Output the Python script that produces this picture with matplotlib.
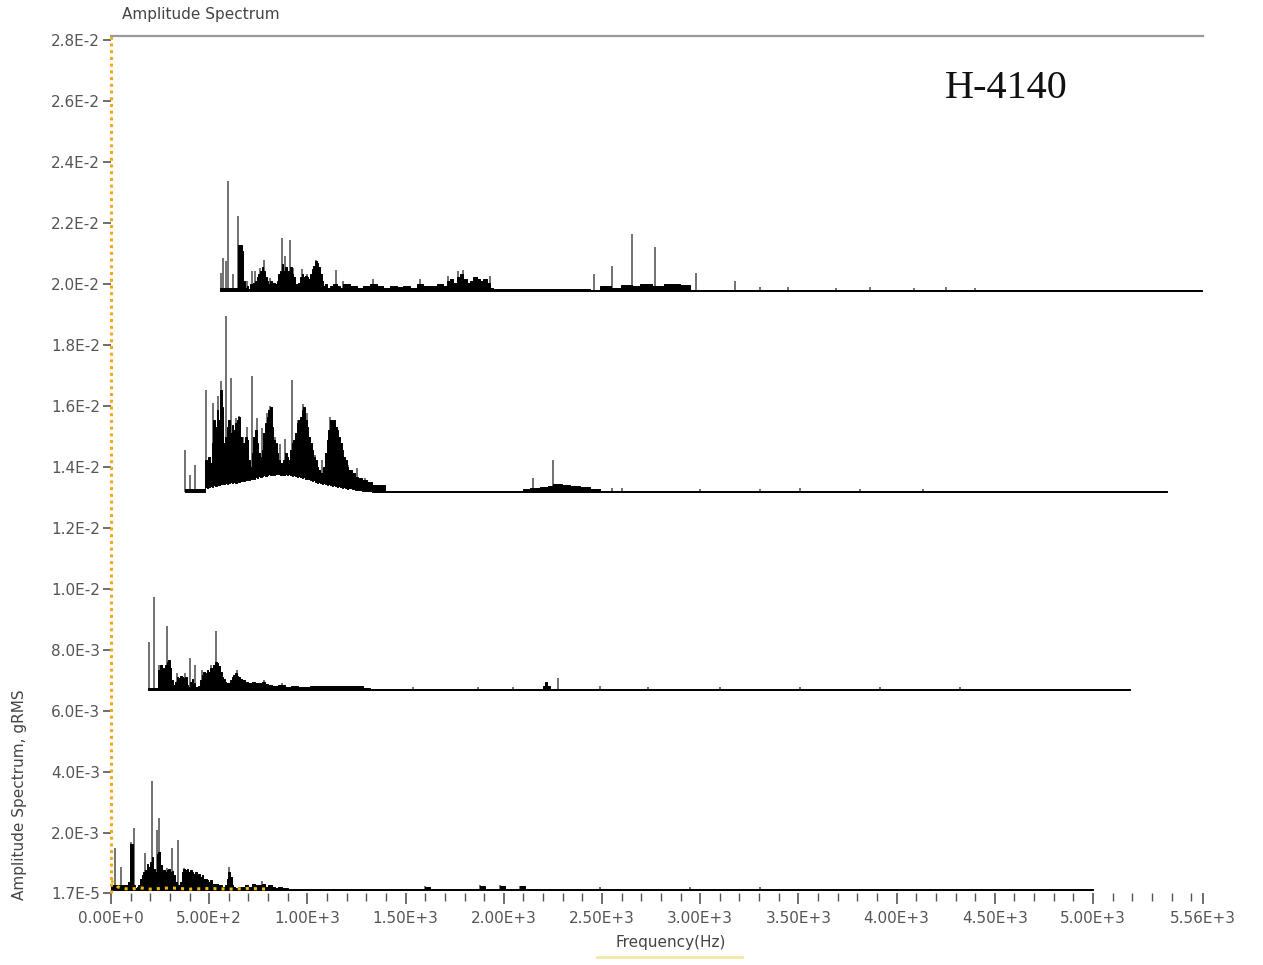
import matplotlib
matplotlib.use("Agg")
import matplotlib.pyplot as plt
import numpy as np
from matplotlib.lines import Line2D

# Four runs of the spectrum, drawn as a waterfall: each run is shifted
# right (Hz) and up (gRMS) from the one below it.
run_shift_hz = [0, 188, 377, 555]
run_shift_g = [1.15e-4, 6.68e-3, 1.317e-2, 1.977e-2]

# Dense part of each spectrum: frequency (Hz), upper (and lower) edge (mgRMS).
run1_f = [0, 71, 88, 97, 105, 114, 122, 131, 139, 148, 156, 165, 173, 182, 190,
          199, 207, 216, 224, 232, 241, 249, 258, 266, 275, 283, 292, 300, 309,
          317, 326, 334, 343, 351, 360, 368, 377, 385, 394, 402, 411, 419, 428,
          436, 445, 453, 462, 470, 479, 487, 496, 504, 512, 529, 546, 563, 580,
          589, 597, 606, 614, 623, 631, 648, 665, 682, 699, 716, 733, 750, 767,
          784, 801, 818, 835, 852, 869, 886, 903, 1599, 1624, 1879, 1904, 1981,
          2006, 2083, 2108, 5000]
run1_hi = [0.15, 0.15, 0.26, 1.52, 1.52, 0.15, 0.07, 0.10, 0.15, 0.37, 0.48,
           0.59, 0.65, 0.86, 0.75, 0.92, 1.08, 0.70, 0.59, 1.19, 1.25, 0.81,
           0.59, 0.65, 0.59, 0.65, 0.70, 0.59, 0.61, 0.48, 0.26, 0.10, 0.15,
           0.26, 0.59, 0.70, 0.65, 0.70, 0.59, 0.65, 0.59, 0.54, 0.59, 0.48,
           0.54, 0.43, 0.48, 0.37, 0.37, 0.32, 0.26, 0.32, 0.21, 0.21, 0.15,
           0.10, 0.15, 0.37, 0.59, 0.43, 0.15, 0.10, 0.05, 0.10, 0.10, 0.15,
           0.10, 0.21, 0.15, 0.15, 0.21, 0.10, 0.15, 0.10, 0.07, 0.10, 0.07,
           0.05, 0.03, 0.10, 0.03, 0.13, 0.03, 0.13, 0.03, 0.13, 0.03, 0.03]

run2_f = [0, 44, 53, 61, 70, 78, 86, 95, 103, 112, 120, 129, 137, 146, 154, 163,
          171, 180, 188, 197, 205, 214, 222, 231, 239, 248, 256, 265, 273, 282,
          290, 299, 307, 316, 324, 333, 341, 350, 358, 366, 375, 383, 392, 400,
          409, 417, 426, 434, 443, 451, 460, 468, 477, 494, 511, 528, 545, 562,
          579, 596, 613, 630, 663, 697, 731, 765, 799, 825, 1095, 1130, 1996,
          2010, 2022, 2034, 2047, 5000]
run2_hi = [0.06, 0.06, 0.66, 0.82, 0.60, 0.71, 0.82, 0.93, 0.98, 0.71, 0.33,
           0.16, 0.27, 0.42, 0.38, 0.44, 0.42, 0.38, 0.42, 0.16, 0.11, 0.27,
           0.35, 0.22, 0.11, 0.09, 0.13, 0.33, 0.49, 0.60, 0.55, 0.66, 0.60,
           0.71, 0.66, 0.82, 0.93, 0.87, 0.77, 0.60, 0.42, 0.35, 0.27, 0.22,
           0.24, 0.33, 0.42, 0.49, 0.55, 0.46, 0.42, 0.35, 0.31, 0.26, 0.24,
           0.27, 0.24, 0.22, 0.26, 0.20, 0.16, 0.13, 0.15, 0.11, 0.13, 0.09,
           0.09, 0.13, 0.07, 0.03, 0.03, 0.13, 0.26, 0.13, 0.03, 0.03]

run3_f = [0, 97, 102, 110, 119, 127, 136, 144, 153, 161, 170, 178, 187, 195,
          204, 212, 221, 229, 238, 246, 255, 263, 272, 280, 289, 297, 306, 314,
          322, 331, 339, 348, 356, 365, 373, 382, 390, 399, 407, 416, 424, 433,
          441, 450, 458, 467, 475, 484, 492, 501, 509, 518, 526, 535, 543, 551,
          560, 568, 577, 585, 594, 602, 611, 619, 628, 636, 645, 653, 662, 670,
          679, 687, 696, 704, 713, 721, 730, 738, 747, 755, 764, 772, 781, 789,
          798, 806, 815, 823, 832, 849, 866, 883, 900, 925,
          950, 1018, 1680, 1721, 1757, 1808, 1850, 1874, 1920, 1960, 2011, 2062,
          2113, 5000]
run3_hi = [0.10, 0.10, 1.05, 0.83, 1.16, 0.94, 1.60, 2.36, 2.14, 2.69, 2.36,
           3.35, 2.80, 1.60, 1.82, 2.14, 2.36, 1.93, 2.20, 2.04, 2.25, 2.36,
           2.47, 1.82, 1.27, 1.60, 1.82, 1.71, 1.05, 0.83, 1.27, 1.82, 2.04,
           1.60, 1.27, 1.16, 1.38, 1.93, 2.25, 2.47, 2.69, 2.80, 2.14, 1.71,
           1.60, 1.27, 1.05, 0.94, 0.83, 1.05, 1.27, 1.16, 1.05, 1.38, 1.60,
           1.71, 1.93, 2.25, 2.36, 2.47, 2.69, 2.80, 2.36, 2.14, 1.82, 1.60,
           1.38, 1.16, 1.05, 0.83, 0.72, 0.61, 0.61, 0.83, 1.27, 1.71, 2.04,
           2.36, 2.25, 2.36, 2.14, 2.04, 1.82, 1.60, 1.38, 1.16, 1.05, 0.83,
           0.72, 0.61, 0.50, 0.45, 0.40, 0.34,
           0.23, 0.05, 0.05, 0.10, 0.13, 0.16, 0.20, 0.26, 0.23, 0.20, 0.16,
           0.10, 0.05, 0.03]
run3_lo = [0.00, 0.00, 0.16, 0.13, 0.16, 0.20, 0.16, 0.23, 0.20, 0.26, 0.23,
           0.26, 0.30, 0.26, 0.30, 0.26, 0.30, 0.33, 0.30, 0.33, 0.30, 0.36,
           0.33, 0.36, 0.39, 0.36, 0.39, 0.43, 0.39, 0.43, 0.46, 0.43, 0.49,
           0.46, 0.52, 0.49, 0.52, 0.56, 0.52, 0.56, 0.59, 0.56, 0.59, 0.56,
           0.59, 0.62, 0.59, 0.56, 0.59, 0.56, 0.59, 0.56, 0.59, 0.56, 0.52,
           0.56, 0.52, 0.49, 0.52, 0.49, 0.46, 0.49, 0.43, 0.46, 0.43, 0.39,
           0.36, 0.39, 0.33, 0.30, 0.33, 0.30, 0.26, 0.30, 0.26, 0.23, 0.26,
           0.23, 0.20, 0.23, 0.20, 0.16, 0.20, 0.16, 0.13, 0.16, 0.13, 0.10,
           0.13, 0.10, 0.07, 0.07, 0.03, 0.03,
           0.00, 0.00, 0.00, 0.00, 0.00, 0.00, 0.00, 0.00, 0.00, 0.00, 0.00,
           0.00, 0.00, 0.00]

run4_f = [0, 88, 93, 102, 110, 119, 127, 136, 144, 153, 161, 170, 178, 187, 195,
          204, 212, 221, 229, 238, 246, 255, 263, 272, 280, 289, 297, 306, 314,
          322, 331, 339, 348, 356, 365, 373, 382, 390, 399, 407, 416, 424, 433,
          441, 450, 458, 467, 475, 484, 492, 501, 509, 518, 526, 535, 543, 560,
          577, 594, 611, 628, 662, 696, 730, 764, 798, 832, 866, 900, 933, 967,
          1001, 1035, 1069, 1103, 1137, 1154, 1171, 1188, 1205, 1222, 1239,
          1256, 1273, 1290, 1307, 1324, 1341, 1358, 1375, 1392, 1884, 1935,
          1990, 2040, 2100, 2139, 2200, 2260, 2343, 2393, 5000]
run4_hi = [0.11, 0.11, 1.51, 1.51, 1.31, 0.33, 0.11, 0.17, 0.06, 0.22, 0.11,
           0.27, 0.33, 0.44, 0.55, 0.66, 0.77, 0.66, 0.44, 0.33, 0.22, 0.33,
           0.17, 0.27, 0.22, 0.33, 0.55, 0.66, 0.88, 0.66, 0.77, 0.55, 0.66,
           0.77, 0.55, 0.44, 0.22, 0.17, 0.27, 0.44, 0.55, 0.44, 0.49, 0.44,
           0.38, 0.55, 0.71, 0.82, 0.99, 0.93, 0.77, 0.55, 0.33, 0.17, 0.22,
           0.11, 0.17, 0.22, 0.17, 0.11, 0.22, 0.17, 0.11, 0.17, 0.22, 0.17,
           0.11, 0.17, 0.13, 0.17, 0.11, 0.22, 0.17, 0.17, 0.22, 0.17, 0.33,
           0.38, 0.27, 0.44, 0.55, 0.38, 0.27, 0.33, 0.44, 0.38, 0.33, 0.38,
           0.27, 0.11, 0.05, 0.03, 0.16, 0.10, 0.20, 0.16, 0.23, 0.16, 0.23,
           0.20, 0.03, 0.03]

# Discrete lines standing above the dense part: frequency (Hz), peak (mgRMS).
run1_peak_f = [20, 51, 102, 116, 173, 207, 233, 246, 284, 309, 343, 373, 411,
               601, 767, 1599, 1879, 1981, 2083, 2490, 2948, 3305]
run1_peak_a = [1.38, 0.75, 1.57, 2.03, 1.21, 3.58, 1.97, 2.36, 0.72, 1.38, 1.64,
               0.72, 0.59, 0.75, 0.30, 0.13, 0.16, 0.16, 0.13, 0.10, 0.10, 0.10]

run2_peak_f = [5, 32, 56, 95, 103, 146, 188, 214, 239, 273, 299, 321, 345, 367,
               453, 591, 682, 1349, 1680, 1859, 2088, 2302, 2546, 2913, 3320,
               3727, 4135]
run2_peak_a = [1.57, 3.05, 0.82, 2.10, 0.98, 0.56, 0.56, 1.05, 0.82, 0.66, 0.56,
               0.82, 1.94, 0.75, 0.66, 0.33, 0.23, 0.10, 0.10, 0.10, 0.39, 0.13,
               0.10, 0.10, 0.10, 0.10, 0.10]

run3_peak_f = [0, 25, 51, 105, 141, 166, 182, 207, 234, 258, 275, 295, 314, 340,
               365, 390, 416, 433, 458, 484, 509, 546, 577, 599, 619, 662, 696,
               738, 764, 798, 830, 874, 916, 1772, 1874, 2174, 2225, 2622, 2928,
               3131, 3437, 3758]
run3_peak_a = [1.38, 0.56, 0.89, 3.35, 2.92, 3.15, 3.64, 5.77, 3.74, 2.43, 2.49,
               1.80, 2.13, 3.80, 2.43, 2.10, 2.59, 2.82, 1.80, 1.57, 1.74, 3.67,
               2.36, 2.89, 2.59, 1.21, 1.05, 2.46, 2.30, 1.61, 0.89, 0.79, 0.46,
               0.46, 1.05, 0.13, 0.13, 0.10, 0.10, 0.13, 0.10, 0.10]

run4_peak_f = [4, 17, 29, 42, 68, 93, 136, 161, 178, 204, 224, 255, 315, 331,
               356, 373, 416, 441, 489, 591, 627, 779, 1018, 1161, 1212, 1237,
               1308, 1375, 1904, 1996, 2098, 2215, 2424, 2622, 2750, 2892, 3137,
               3310, 3534, 3697, 3844]
run4_peak_a = [0.59, 1.08, 0.98, 3.61, 0.56, 2.46, 0.33, 0.66, 0.66, 0.75, 1.02,
               0.43, 1.74, 1.15, 1.67, 0.75, 0.72, 0.56, 1.02, 0.69, 0.33, 0.39,
               0.39, 0.49, 0.66, 0.69, 0.43, 0.49, 0.56, 0.82, 1.87, 1.44, 0.59,
               0.33, 0.13, 0.13, 0.10, 0.13, 0.10, 0.13, 0.10]

# Cursor trace along the bottom run (mgRMS)
cursor_f = [0, 10, 20, 35, 60, 100, 150, 200, 300, 400, 500, 600, 700, 800]
cursor_a = [0.30, 0.26, 0.20, 0.10, 0.05, 0.03, 0.07, 0.03, 0.07, 0.03, 0.05,
            0.03, 0.05, 0.03]

y_ticks = [1.7e-5, 2.0e-3, 4.0e-3, 6.0e-3, 8.0e-3, 1.0e-2, 1.2e-2, 1.4e-2,
           1.6e-2, 1.8e-2, 2.0e-2, 2.2e-2, 2.4e-2, 2.6e-2, 2.8e-2]
y_tick_labels = ["1.7E-5", "2.0E-3", "4.0E-3", "6.0E-3", "8.0E-3", "1.0E-2",
                 "1.2E-2", "1.4E-2", "1.6E-2", "1.8E-2", "2.0E-2", "2.2E-2",
                 "2.4E-2", "2.6E-2", "2.8E-2"]
x_ticks = [0, 500, 1000, 1500, 2000, 2500, 3000, 3500, 4000, 4500, 5000, 5560]
x_tick_labels = ["0.00E+0", "5.00E+2", "1.00E+3", "1.50E+3", "2.00E+3",
                 "2.50E+3", "3.00E+3", "3.50E+3", "4.00E+3", "4.50E+3",
                 "5.00E+3", "5.56E+3"]

W, H = 1263, 965
fig = plt.figure(figsize=(W / 100, H / 100), dpi=100)
fig.patch.set_facecolor("white")
# plot area in pixels: x 111..1203, y 36..893
ax = fig.add_axes([111 / W, 1 - 893 / H, (1203 - 111) / W, (893 - 36) / H])
ax.set_xlim(0, 5560)
ax.set_ylim(1.7e-5, 2.8131e-2)

runs = [
    (run1_f, None, run1_hi, run1_peak_f, run1_peak_a),
    (run2_f, None, run2_hi, run2_peak_f, run2_peak_a),
    (run3_f, run3_lo, run3_hi, run3_peak_f, run3_peak_a),
    (run4_f, None, run4_hi, run4_peak_f, run4_peak_a),
]

for k, (f, lo, hi, pf, pa) in enumerate(runs):
    dx = run_shift_hz[k]
    dy = run_shift_g[k]
    f = np.asarray(f, float) + dx
    hi = np.asarray(hi) * 1e-3 + dy
    floor = np.zeros(len(f)) if lo is None else np.asarray(lo) * 1e-3
    lo = floor + dy
    pf = np.asarray(pf, float) + dx
    pa = np.asarray(pa) * 1e-3 + dy
    ax.vlines(pf, dy, pa, color="#666666", lw=1.3, zorder=2)
    if floor.any():
        # nothing shows below a raised noise floor
        ax.fill_between(f, dy - 2e-5, lo, step="post", color="white", lw=0,
                        zorder=2.5)
    ax.fill_between(f, lo, hi, step="post", color="black", lw=0.7, zorder=3)

# cursor markers at the low end
ax.plot(np.asarray(cursor_f) + run_shift_hz[0],
        np.asarray(cursor_a) * 1e-3 + run_shift_g[0],
        color="#f5b800", ls=":", lw=2.2, zorder=4)
ax.plot([0, 0], [1.7e-5, 2.8131e-2], color="#f5a623", ls=(0, (1, 1.2)),
        lw=2.2, zorder=5, clip_on=False)

for side in ("right", "bottom", "left"):
    ax.spines[side].set_visible(False)
ax.spines["top"].set_color("#9a9a9a")
ax.spines["top"].set_linewidth(1.6)

ax.set_yticks(y_ticks)
ax.set_yticklabels(y_tick_labels)
ax.set_xticks(x_ticks)
ax.set_xticklabels(x_tick_labels)
ax.set_xticks(np.arange(0, 5501, 100), minor=True)
ax.tick_params(axis="both", which="major", colors="#555555", labelcolor="#555555",
               labelsize=11, width=1.2)
ax.tick_params(axis="y", which="major", length=6, pad=2)
ax.tick_params(axis="x", which="major", length=8, pad=5)
ax.tick_params(axis="x", which="minor", length=6, width=1.0, colors="#555555")

fig.text(122 / W, 1 - 14 / H, "Amplitude Spectrum", fontsize=11,
         color="#444444", ha="left", va="center")
fig.text(20 / W, 1 - 795 / H, "Amplitude Spectrum, gRMS", fontsize=11,
         color="#444444", rotation=90, ha="center", va="center")
fig.text(671 / W, 1 - 943 / H, "Frequency(Hz)", fontsize=11,
         color="#444444", ha="center", va="center")
fig.add_artist(Line2D([597 / W, 742 / W], [1 - 957 / H, 1 - 957 / H],
                      color="#f1e7a6", lw=2))
fig.text(945 / W, 1 - 88 / H, "H-4140", fontsize=29, family="Liberation Serif",
         color="#111111", ha="left", va="center")

fig.savefig("out.png", dpi=100, facecolor="white")
